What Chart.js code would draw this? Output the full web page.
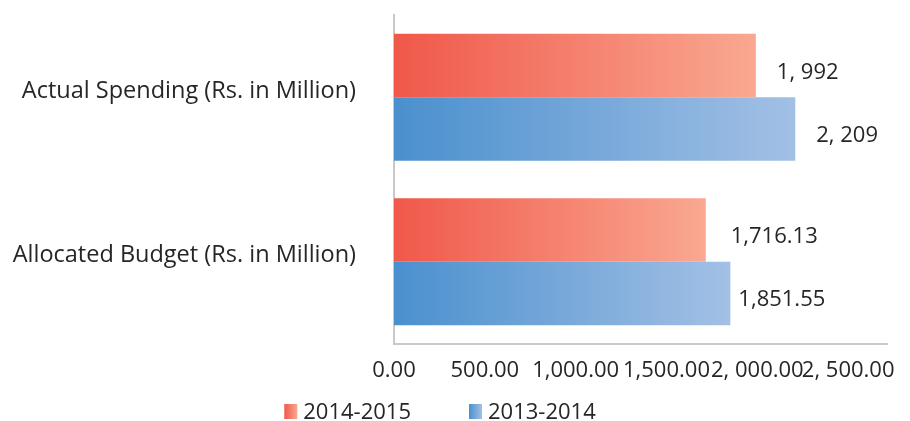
<!DOCTYPE html>
<html>
<head>
<meta charset="utf-8">
<script src="https://cdn.jsdelivr.net/npm/chart.js@4.4.1/dist/chart.umd.min.js"></script>
<style>
  html, body { margin: 0; padding: 0; background: #ffffff; }
  #wrap { width: 910px; height: 421px; }
</style>
</head>
<body>
<div id="wrap"><canvas id="chart"></canvas></div>
<script>
// Budget data (Rs. in Million)
const categories = ['Actual Spending (Rs. in Million)', 'Allocated Budget (Rs. in Million)'];
const seriesNames = ['2014-2015', '2013-2014'];
const values2014_15 = [1992, 1716.13];
const values2013_14 = [2209, 1851.55];
const valueLabels2014_15 = ['1, 992', '1,716.13'];
const valueLabels2013_14 = ['2, 209', '1,851.55'];
const xTickValues = [0, 500, 1000, 1500, 2000, 2500];
const xTickLabels = ['0.00', '500.00', '1,000.00', '1,500.00', '2, 000.00', '2, 500.00'];
const xAxisMax = 2716;

// Styling
const FONT = '"Open Sans", Lato, "DejaVu Sans", sans-serif';
const TEXT = '#262626';
const AXIS = '#c9c9c9';
const fills = [
  { from: '#F0584A', to: '#F9A891' },
  { from: '#4A90CE', to: '#A3C0E5' }
];
// horizontal gap between each bar end and its value label
const labelGap = [[21, 25], [21, 8]];

const valueLabels = [valueLabels2014_15, valueLabels2013_14];

function barFill(c, pal) {
  const chart = c.chart;
  if (c.type !== 'data' || !chart.chartArea) return pal.from;
  const xs = chart.scales.x;
  const x0 = xs.getPixelForValue(0);
  const x1 = xs.getPixelForValue(c.raw);
  const g = chart.ctx.createLinearGradient(x0, 0, x1, 0);
  g.addColorStop(0, pal.from);
  g.addColorStop(1, pal.to);
  return g;
}

const valueLabelPlugin = {
  id: 'valueLabels',
  afterDatasetsDraw(chart) {
    const ctx = chart.ctx;
    ctx.save();
    ctx.font = '22px ' + FONT;
    ctx.fillStyle = TEXT;
    ctx.textAlign = 'left';
    ctx.textBaseline = 'alphabetic';
    chart.data.datasets.forEach((ds, i) => {
      chart.getDatasetMeta(i).data.forEach((bar, j) => {
        ctx.fillText(valueLabels[i][j], bar.x + labelGap[i][j], bar.y + 13);
      });
    });
    ctx.restore();
  }
};

const swatchLegendPlugin = {
  id: 'swatchLegend',
  afterDraw(chart) {
    const ctx = chart.ctx;
    ctx.save();
    ctx.font = '22px ' + FONT;
    ctx.textBaseline = 'alphabetic';
    ctx.textAlign = 'left';
    const boxW = 13, boxH = 15, boxGap = 6, itemGap = 58;
    const items = chart.data.datasets.map((ds, i) => ({
      text: ds.label, pal: fills[i], w: ctx.measureText(ds.label).width
    }));
    const total = items.reduce((s, it) => s + boxW + boxGap + it.w, 0) + itemGap * (items.length - 1);
    let x = 440 - total / 2;
    const baseline = chart.height - 2;
    items.forEach(it => {
      const g = ctx.createLinearGradient(x, 0, x + boxW, 0);
      g.addColorStop(0, it.pal.from);
      g.addColorStop(1, it.pal.to);
      ctx.fillStyle = g;
      ctx.fillRect(x, baseline - boxH, boxW, boxH);
      ctx.fillStyle = TEXT;
      ctx.fillText(it.text, x + boxW + boxGap, baseline);
      x += boxW + boxGap + it.w + itemGap;
    });
    ctx.restore();
  }
};

new Chart(document.getElementById('chart'), {
  type: 'bar',
  data: {
    labels: categories,
    datasets: [
      {
        label: seriesNames[0],
        data: values2014_15,
        backgroundColor: c => barFill(c, fills[0]),
        borderWidth: 0,
        categoryPercentage: 0.772,
        barPercentage: 1
      },
      {
        label: seriesNames[1],
        data: values2013_14,
        backgroundColor: c => barFill(c, fills[1]),
        borderWidth: 0,
        categoryPercentage: 0.772,
        barPercentage: 1
      }
    ]
  },
  options: {
    indexAxis: 'y',
    responsive: true,
    maintainAspectRatio: false,
    animation: false,
    layout: { padding: { top: 15, right: 19, bottom: 33, left: 0 } },
    plugins: {
      legend: { display: false },
      tooltip: { enabled: false }
    },
    scales: {
      x: {
        type: 'linear',
        min: 0,
        max: xAxisMax,
        afterBuildTicks: s => { s.ticks = xTickValues.map(v => ({ value: v })); },
        afterFit: s => { s.height = 44; },
        grid: { display: false, drawTicks: false },
        border: { color: AXIS, width: 2 },
        ticks: {
          autoSkip: false,
          maxRotation: 0,
          padding: 14,
          color: TEXT,
          font: { family: FONT, size: 22 },
          callback: (v, i) => xTickLabels[i]
        }
      },
      y: {
        type: 'category',
        offset: true,
        afterFit: s => {
          s.width = 394;
          s.paddingTop = 0;
          s.paddingBottom = 0;
        },
        grid: { display: false, drawTicks: false },
        border: { color: AXIS, width: 2 },
        ticks: {
          padding: 38,
          labelOffset: -6,
          color: TEXT,
          font: { family: FONT, size: 23.5 }
        }
      }
    }
  },
  plugins: [valueLabelPlugin, swatchLegendPlugin]
});
</script>
</body>
</html>
